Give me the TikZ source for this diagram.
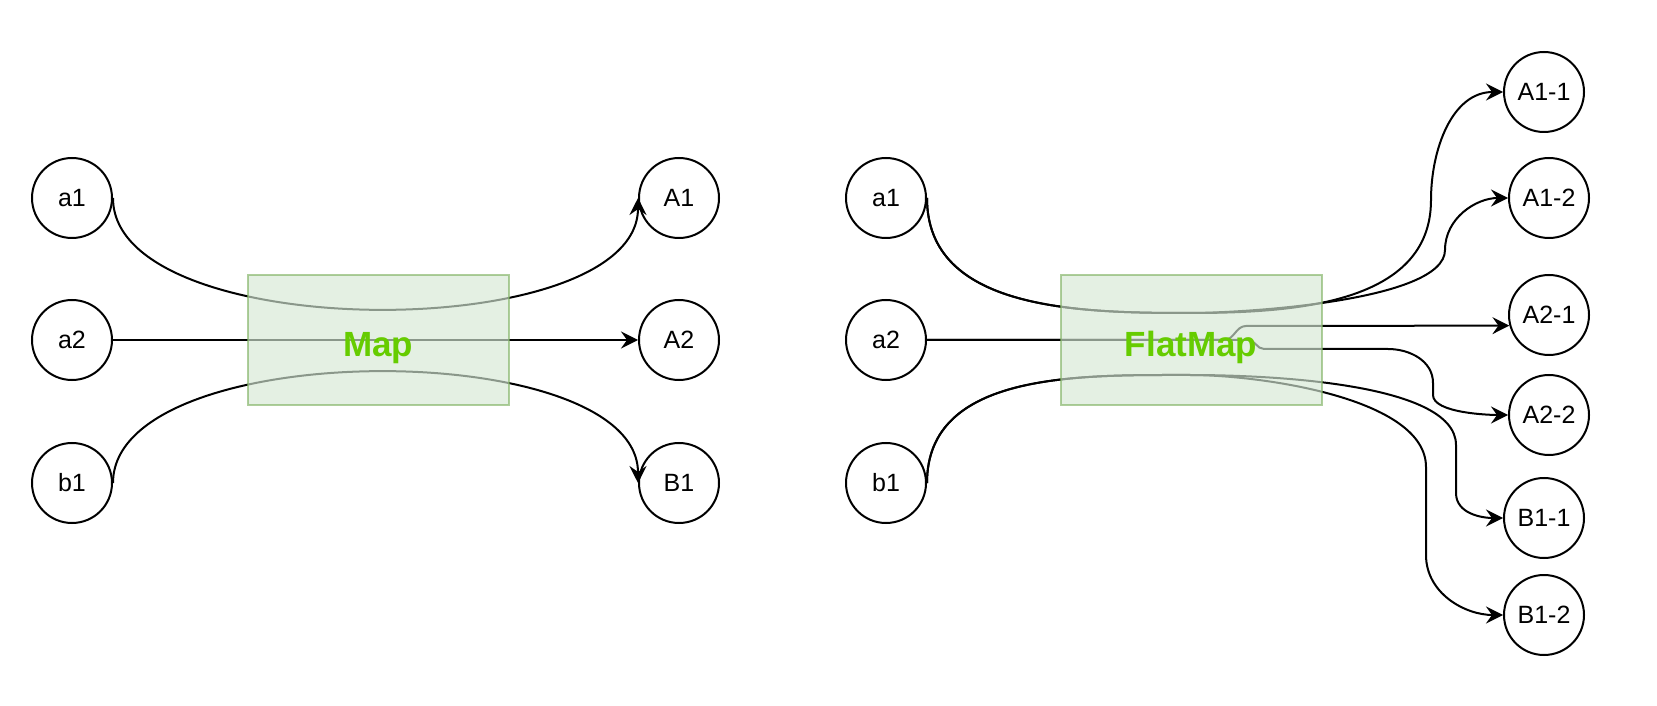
\documentclass[tikz,border=0pt]{standalone}
\usepackage{fontspec}
\setmainfont{Liberation Sans}
\usetikzlibrary{automata, positioning, arrows.meta}
\definecolor{boxfill}{HTML}{D5E8D4}
\definecolor{boxline}{HTML}{82B366}
\definecolor{opgreen}{HTML}{66CC00}

\begin{document}
\begin{tikzpicture}[x=1pt, y=1pt, line width=2pt, node distance=142pt, on grid,
    >={Stealth[length=17pt,width=17pt,inset=6pt]}]
        \tikzset{every state/.style={minimum size=80pt, inner sep=0pt, font=\fontsize{25}{29}\selectfont}}
        \tikzset{opbox/.style={rectangle, draw=boxline, fill=boxfill, opacity=0.65, text opacity=1,
            text=opgreen, minimum width=261pt, minimum height=130pt, text height=34pt, text depth=0pt,
            font=\fontsize{35}{40}\selectfont\bfseries}}
        \useasboundingbox (0,0) rectangle (1657,705);

        % map
        \node[state] (a1) at (72,507) {a1};
        \node[state] (a2) [below=of a1] {a2};
        \node[state] (b1) [below=143pt of a2] {b1};
        \node[state] (A1) [right=607pt of a1] {A1};
        \node[state] (A2) [right=607pt of a2] {A2};
        \node[state] (B1) [right=607pt of b1] {B1};
        \path[->]
        (a1.east) edge [out=-90, in=-90, looseness=0.72] (A1.west)
        (a2) edge (A2)
        (b1.east) edge [out=90, in=90, looseness=0.72] (B1.west);

        % flatmap
        \node[state] (fa1) [right=814pt of a1] {a1};
        \node[state] (fa2) [right=814pt of a2] {a2};
        \node[state] (fb1) [right=814pt of b1] {b1};
        \node[state] (A11) at (1544,613) {A1-1};
        \node[state] (A12) [right=663pt of fa1] {A1-2};
        \node[state] (A21) [below=117pt of A12] {A2-1};
        \node[state] (A22) [below=100pt of A21] {A2-2};
        \node[state] (B11) at (1544,187) {B1-1};
        \node[state] (B12) [below=97pt of B11] {B1-2};
        \draw[->] (fa1.east) to[out=-90, in=180] (1190,392) to[out=0, in=-90] (1431,505)
            to[out=90, in=180] (A11.west);
        \draw[->] (fa1.east) to[out=-90, in=180] (1190,392) to[out=0, in=-90, looseness=0.5] (1445,455)
            to[out=90, in=180] (A12.west);
        \draw[->] (fa2.east) -- (1224,365) to[out=0, in=180] (1246,379) -- (A21.195);
        \draw[->] (fa2.east) -- (1248,365) to[out=0, in=180] (1264,356) -- (1388,356)
            to[out=0, in=90] (1433,322) -- (1433,310) to[out=-90, in=180, looseness=0.6] (A22.west);
        \draw[->] (fb1.east) to[out=90, in=180] (1190,330) to[out=0, in=90, looseness=0.6] (1456,260)
            -- (1456,212) to[out=-90, in=180] (B11.west);
        \draw[->] (fb1.east) to[out=90, in=180] (1190,330) to[out=0, in=90, looseness=0.7] (1426,238)
            -- (1426,150) to[out=-90, in=180] (B12.west);

        % boxes on top of the edges
        \node[opbox] (map) [right=306pt of a2] {Map};
        \node[opbox] (flatmap) [right=305pt of fa2] {FlatMap};
    \end{tikzpicture}
\end{document}
